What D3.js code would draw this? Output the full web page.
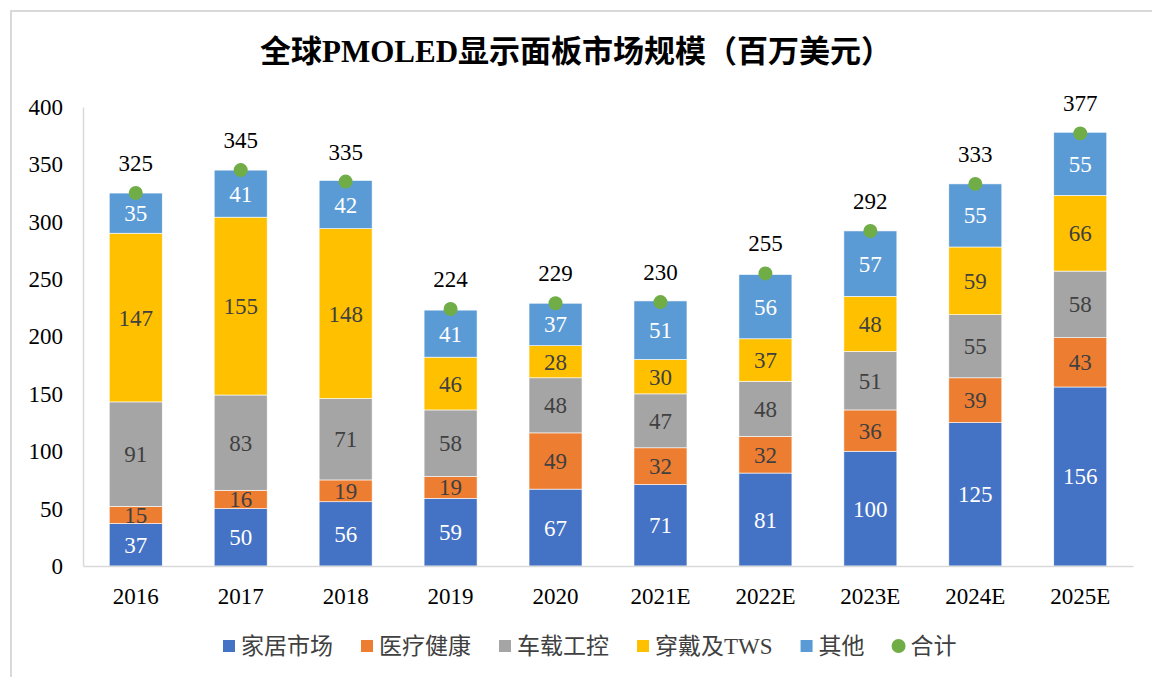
<!DOCTYPE html>
<html>
<head>
<meta charset="utf-8">
<style>
    body
    {
        margin:0;
        background:#fff;
    }
    text
    {
        font-family:"Liberation Serif","Times New Roman","Noto Sans CJK SC",serif;
    }
</style>
<script src="https://d3js.org/d3.v7.min.js"></script>
</head>
<body>
<svg id="chart" width="1152" height="677"></svg>
<script>
    // chart values
    var years = ["2016","2017","2018","2019","2020","2021E","2022E","2023E","2024E","2025E"];
    var seriesNames = ["家居市场","医疗健康","车载工控","穿戴及TWS","其他"];
    var home = [37,50,56,59,67,71,81,100,125,156];
    var medical = [15,16,19,19,49,32,32,36,39,43];
    var auto = [91,83,71,58,48,47,48,51,55,58];
    var wearable = [147,155,148,46,28,30,37,48,59,66];
    var others = [35,41,42,41,37,51,56,57,55,55];
    var totals = [325,345,335,224,229,230,255,292,333,377];
    var totalName = "合计";
    var yTicks = [0,50,100,150,200,250,300,350,400];

    var colors = ["#4472C4","#ED7D31","#A5A5A5","#FFC000","#5B9BD5"];
    var labelColors = ["#ffffff","#404040","#404040","#404040","#ffffff"];
    var dotColor = "#70AD47";

    var svg = d3.select("#chart");

    // outer frame
    svg.append("rect")
        .attr("x",11).attr("y",11)
        .attr("width",1160).attr("height",700)
        .attr("fill","none")
        .attr("stroke","#d9d9d9")
        .attr("stroke-width",2);

    svg.append("text")
        .attr("x",576).attr("y",62)
        .attr("text-anchor","middle")
        .attr("font-size",31)
        .attr("font-weight","bold")
        .attr("fill","#000")
        .text("全球PMOLED显示面板市场规模（百万美元）");

    var plot = {left:83,right:1133,top:107,bottom:566};

    var xScale = d3.scaleBand()
        .domain(years)
        .range([plot.left,plot.right])
        .paddingInner(0.495)
        .paddingOuter(0.25);

    var yScale = d3.scaleLinear()
        .domain([0,400])
        .range([plot.bottom,plot.top]);

    // y axis
    var yAxis = svg.append("g")
        .attr("transform","translate("+plot.left+",0)")
        .call(d3.axisLeft(yScale).tickValues(yTicks).tickSize(0).tickPadding(20));
    yAxis.select(".domain").attr("stroke","#d9d9d9").attr("stroke-width",1.5);
    yAxis.selectAll("text")
        .attr("font-size",23)
        .attr("fill","#000")
        .style("font-family","'Liberation Serif',serif");

    var data = years.map(function(y,i){
        return {year:y,home:home[i],medical:medical[i],auto:auto[i],wearable:wearable[i],others:others[i],total:totals[i]};
    });
    var keys = ["home","medical","auto","wearable","others"];
    var stack = d3.stack().keys(keys)(data);

    var layers = svg.append("g").selectAll("g")
        .data(stack)
        .enter()
        .append("g")
        .attr("fill",function(d,i){return colors[i];});

    layers.selectAll("rect")
        .data(function(d){return d;})
        .enter()
        .append("rect")
        .attr("x",function(d){return xScale(d.data.year);})
        .attr("width",xScale.bandwidth())
        .attr("y",function(d){return yScale(d[1]);})
        .attr("height",function(d){return yScale(d[0])-yScale(d[1]);})
        .attr("stroke","#ffffff")
        .attr("stroke-width",0.6);

    layers.each(function(layer,li){
        d3.select(this).selectAll("text")
            .data(layer)
            .enter()
            .append("text")
            .attr("x",function(d){return xScale(d.data.year)+xScale.bandwidth()/2;})
            .attr("y",function(d){return yScale((d[0]+d[1])/2)+8;})
            .attr("text-anchor","middle")
            .attr("font-size",23)
            .attr("fill",labelColors[li])
            .text(function(d){return d[1]-d[0];});
    });

    // x axis
    var xAxis = svg.append("g")
        .attr("transform","translate(0,"+plot.bottom+")")
        .call(d3.axisBottom(xScale).tickSize(0).tickPadding(22).tickSizeOuter(0));
    xAxis.select(".domain").attr("stroke","#d9d9d9").attr("stroke-width",1.5);
    xAxis.selectAll("text")
        .attr("font-size",23)
        .attr("fill","#000")
        .style("font-family","'Liberation Serif',serif");

    // total dots + labels
    svg.append("g").selectAll("circle")
        .data(data)
        .enter()
        .append("circle")
        .attr("cx",function(d){return xScale(d.year)+xScale.bandwidth()/2;})
        .attr("cy",function(d){return yScale(d.total);})
        .attr("r",7)
        .attr("fill",dotColor);

    svg.append("g").selectAll("text")
        .data(data)
        .enter()
        .append("text")
        .attr("x",function(d){return xScale(d.year)+xScale.bandwidth()/2;})
        .attr("y",function(d){return yScale(d.total)-22;})
        .attr("text-anchor","middle")
        .attr("font-size",23)
        .attr("fill","#000")
        .text(function(d){return d.total;});

    // legend
    var legendItems = seriesNames.map(function(n,i){return {name:n,color:colors[i],dot:false};});
    legendItems.push({name:totalName,color:dotColor,dot:true});

    var legend = svg.append("g");
    var lx = 223, ly = 646;
    legendItems.forEach(function(item){
        if(item.dot)
        {
            legend.append("circle")
                .attr("cx",lx+6).attr("cy",ly).attr("r",7)
                .attr("fill",item.color);
        }
        else
        {
            legend.append("rect")
                .attr("x",lx).attr("y",ly-6)
                .attr("width",12).attr("height",12)
                .attr("fill",item.color);
        }
        var t = legend.append("text")
            .attr("x",lx+18).attr("y",ly+8)
            .attr("font-size",23)
            .attr("fill","#404040")
            .text(item.name);
        lx = lx+18+t.node().getComputedTextLength()+28;
    });
</script>
</body>
</html>
